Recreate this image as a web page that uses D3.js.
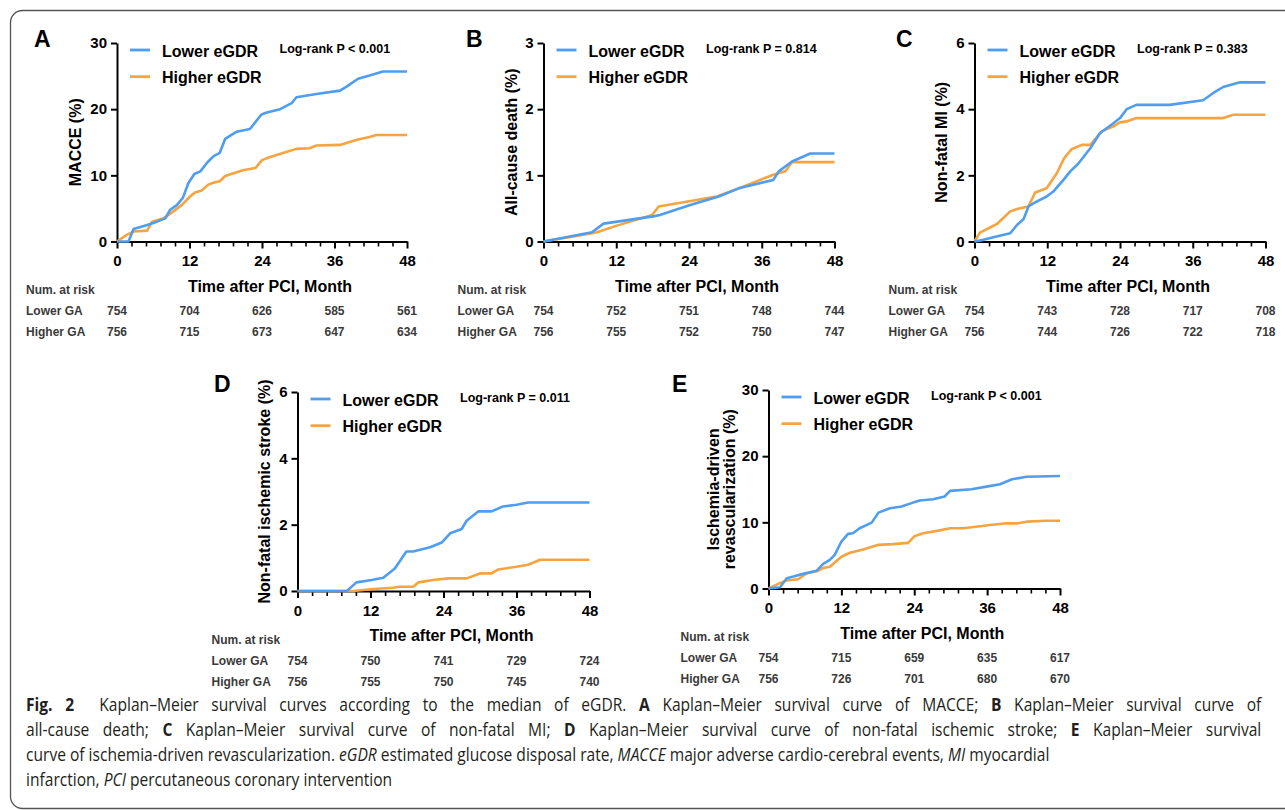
<!DOCTYPE html>
<html>
<head>
<meta charset="utf-8">
<script src="https://cdn.jsdelivr.net/npm/d3@7"></script>
<style>
body { margin: 0; background: #fff; }
svg { display: block; }
.axis path, .axis line { stroke: #000; stroke-width: 2px; }
.axis text { font: bold 15px "Liberation Sans", Arial, sans-serif; fill: #000; }
.minor line { stroke-width: 1.6px; }
</style>
</head>
<body>
<div id="chart"></div>
<script>
// ---- data ----
const months = [0, 12, 24, 36, 48];

const macceLower = [[0,0],[1.9,0],[2.75,1.9],[5,2.5],[6.6,3.0],[8,3.5],[8.8,4.8],[9.9,5.5],[10.9,6.6],[11.8,8.8],[12.8,10.2],[13.8,10.6],[14.9,11.9],[16,12.9],[17,13.4],[17.9,15.5],[19.8,16.6],[22,17.0],[23.9,19.2],[24.8,19.5],[27,20.0],[28.9,20.9],[29.7,21.8],[33,22.3],[36.9,22.8],[38,23.4],[39.9,24.6],[41.8,25.1],[44,25.7],[48,25.7]];
const macceHigher = [[0,0],[1.6,1.0],[2.75,1.5],[5,1.65],[5.8,3.0],[7.7,3.5],[9.1,4.4],[10.7,5.5],[12.1,6.8],[12.9,7.4],[14,7.7],[15.1,8.6],[16,8.9],[17,9.1],[17.9,9.9],[19.3,10.3],[21,10.8],[22.9,11.1],[24,12.3],[25.1,12.7],[27.6,13.4],[29.7,14.0],[31.9,14.1],[33,14.5],[36.9,14.6],[39.9,15.4],[41.8,15.8],[42.9,16.1],[48,16.1]];

const deathLower = [[0,0],[8,0.14],[9.9,0.27],[18.1,0.38],[19.2,0.40],[24.2,0.55],[28.9,0.68],[32.4,0.81],[37.9,0.93],[38.8,1.06],[41,1.21],[44,1.33],[48,1.33]];
const deathHigher = [[0,0],[7.1,0.11],[8.8,0.14],[12.1,0.24],[17.9,0.40],[19,0.53],[28.6,0.68],[32.4,0.81],[37.9,1.01],[39.9,1.06],[41,1.20],[48,1.20]];

const miLower = [[0,0],[1.5,0.05],[3.1,0.13],[5.9,0.25],[7,0.5],[8.1,0.68],[8.9,1.06],[10,1.18],[11.9,1.36],[13,1.51],[14.7,1.87],[15.8,2.12],[17.1,2.35],[19.1,2.82],[20.7,3.28],[22.6,3.53],[24,3.73],[25.1,4.0],[26.7,4.13],[32.2,4.13],[37.7,4.27],[39.4,4.49],[41,4.67],[43.8,4.81],[48,4.81]];
const miHigher = [[0,0],[0.9,0.27],[3.7,0.53],[5.9,0.91],[7,0.98],[8.9,1.06],[10,1.48],[11.9,1.61],[13.6,2.07],[14.8,2.52],[16,2.79],[17.7,2.92],[19.1,2.92],[21,3.33],[22.9,3.48],[24,3.6],[25.1,3.63],[26.7,3.73],[41,3.73],[42.7,3.83],[48,3.83]];

const strokeLower = [[0,0],[8.1,0],[9.7,0.26],[12.2,0.33],[14.1,0.40],[16,0.68],[17.9,1.19],[19,1.19],[21.8,1.32],[23.7,1.46],[25.1,1.74],[27,1.87],[27.8,2.12],[29.7,2.40],[31.9,2.40],[33.8,2.55],[36,2.60],[37.9,2.67],[48,2.67]];
const strokeHigher = [[0,0],[9.2,0],[12.5,0.06],[15.7,0.10],[16.8,0.13],[19,0.13],[19.9,0.26],[22.3,0.33],[24.8,0.38],[27.8,0.38],[30,0.53],[31.9,0.53],[33,0.65],[36,0.73],[37.9,0.79],[39.9,0.94],[48,0.94]];

const revascLower = [[0,0],[1.9,0.2],[3,1.56],[4.1,1.81],[5.7,2.21],[7.9,2.67],[9,3.72],[10.1,4.33],[10.9,5.08],[12,7.1],[13.1,8.25],[13.9,8.35],[15,9.1],[17,9.96],[18.1,11.47],[20,12.13],[21.9,12.38],[23.8,12.98],[24.9,13.29],[27.1,13.49],[29,13.9],[29.9,14.75],[33.4,15.0],[35.9,15.4],[38.1,15.75],[40.1,16.5],[42.5,16.9],[48,17.0]];
const revascHigher = [[0,0],[1.6,0.7],[3,1.2],[4.9,1.4],[6.3,2.3],[7.9,2.6],[9,3.1],[10.1,3.3],[12,4.8],[13.4,5.4],[15.6,5.9],[18.1,6.6],[20.5,6.7],[23,6.9],[24.1,7.95],[25.5,8.35],[28,8.75],[29.9,9.1],[32.1,9.1],[36.5,9.6],[39.2,9.85],[41.1,9.85],[42.5,10.1],[45.8,10.25],[48,10.25]];

const macceRiskLower = [754, 704, 626, 585, 561];
const macceRiskHigher = [756, 715, 673, 647, 634];
const deathRiskLower = [754, 752, 751, 748, 744];
const deathRiskHigher = [756, 755, 752, 750, 747];
const miRiskLower = [754, 743, 728, 717, 708];
const miRiskHigher = [756, 744, 726, 722, 718];
const strokeRiskLower = [754, 750, 741, 729, 724];
const strokeRiskHigher = [756, 755, 750, 745, 740];
const revascRiskLower = [754, 715, 659, 635, 617];
const revascRiskHigher = [756, 726, 701, 680, 670];

const seriesNames = ["Lower eGDR", "Higher eGDR"];
const riskNames = ["Lower GA", "Higher GA"];
const pTexts = ["Log-rank P < 0.001", "Log-rank P = 0.814", "Log-rank P = 0.383", "Log-rank P = 0.011", "Log-rank P < 0.001"];

const colors = {lower: "#4f9df0", higher: "#f7a33f"};
const font = '"Liberation Sans", Arial, sans-serif';

// ---- panel layout ----
const panels = [
    {id: "A", x0: 117, x1: 407, top: 43, bot: 241.5, yMax: 30, yTicks: [0,10,20,30], yTitle: ["MACCE (%)"], titleX: [-42],
     letter: [34, 47], riskX: -91, lower: macceLower, higher: macceHigher, riskL: macceRiskLower, riskH: macceRiskHigher, p: pTexts[0]},
    {id: "B", x0: 543.5, x1: 834.5, top: 43, bot: 241.5, yMax: 3, yTicks: [0,1,2,3], yTitle: ["All-cause death (%)"], titleX: [-32],
     letter: [466, 47], riskX: -86, lower: deathLower, higher: deathHigher, riskL: deathRiskLower, riskH: deathRiskHigher, p: pTexts[1]},
    {id: "C", x0: 974.5, x1: 1265.5, top: 43, bot: 241.5, yMax: 6, yTicks: [0,2,4,6], yTitle: ["Non-fatal MI (%)"], titleX: [-33.5],
     letter: [896, 47], riskX: -86, lower: miLower, higher: miHigher, riskL: miRiskLower, riskH: miRiskHigher, p: pTexts[2]},
    {id: "D", x0: 297.5, x1: 589.5, top: 392, bot: 591, yMax: 6, yTicks: [0,2,4,6], yTitle: ["Non-fatal ischemic stroke (%)"], titleX: [-33],
     letter: [214, 392], riskX: -86, lower: strokeLower, higher: strokeHigher, riskL: strokeRiskLower, riskH: strokeRiskHigher, p: pTexts[3]},
    {id: "E", x0: 768.5, x1: 1060, top: 390, bot: 588.5, yMax: 30, yTicks: [0,10,20,30], yTitle: ["Ischemia-driven", "revascularization (%)"], titleX: [-55.5, -39.5],
     letter: [672, 392], riskX: -88, lower: revascLower, higher: revascHigher, riskL: revascRiskLower, riskH: revascRiskHigher, p: pTexts[4]}
];

const svg = d3.select("#chart").append("svg")
    .attr("width", 1285)
    .attr("height", 810);

svg.append("rect").attr("width", 1285).attr("height", 810).attr("fill", "#fff");

// frame round the figure
svg.append("rect")
    .attr("x", 10.5).attr("y", 10.5)
    .attr("width", 1300).attr("height", 798)
    .attr("rx", 12)
    .attr("fill", "none")
    .attr("stroke", "#555")
    .attr("stroke-width", 1.3);

panels.forEach(p => drawPanel(p));

function drawPanel(p) {
    let g = svg.append("g");

    let x = d3.scaleLinear().domain([0, 48]).range([p.x0, p.x1]);
    let y = d3.scaleLinear().domain([0, p.yMax]).range([p.bot, p.top]);

    // minor x ticks every 2.4 months
    let minor = d3.range(0, 48.01, 2.4).filter(v => months.indexOf(Math.round(v * 100) / 100) < 0);
    g.append("g")
        .attr("class", "axis minor")
        .attr("transform", `translate(0,${p.bot})`)
        .call(d3.axisBottom(x).tickValues(minor).tickSize(5).tickSizeOuter(0).tickFormat(""))
        .select(".domain").remove();

    g.append("g")
        .attr("class", "axis")
        .attr("transform", `translate(0,${p.bot})`)
        .call(d3.axisBottom(x).tickValues(months).tickSize(7).tickSizeOuter(0).tickPadding(7).tickFormat(d3.format("d")));

    g.append("g")
        .attr("class", "axis")
        .attr("transform", `translate(${p.x0},0)`)
        .call(d3.axisLeft(y).tickValues(p.yTicks).tickSize(6).tickSizeOuter(0).tickPadding(4).tickFormat(d3.format("d")));

    // curves
    let line = d3.line().x(d => x(d[0])).y(d => y(d[1]));
    g.append("path").datum(p.higher)
        .attr("d", line).attr("fill", "none")
        .attr("stroke", colors.higher).attr("stroke-width", 2.6).attr("stroke-linejoin", "round");
    g.append("path").datum(p.lower)
        .attr("d", line).attr("fill", "none")
        .attr("stroke", colors.lower).attr("stroke-width", 2.6).attr("stroke-linejoin", "round");

    // panel letter
    g.append("text")
        .attr("x", p.letter[0]).attr("y", p.letter[1])
        .style("font", `bold 23px ${font}`)
        .text(p.id);

    // y title
    let midY = (p.top + p.bot) / 2;
    p.yTitle.forEach((t, i) => {
        g.append("text")
            .attr("transform", `translate(${p.x0 + p.titleX[i]},${midY}) rotate(-90)`)
            .attr("text-anchor", "middle")
            .attr("dominant-baseline", "central")
            .style("font", `bold 16px ${font}`)
            .text(t);
    });

    // x title
    g.append("text")
        .attr("x", (p.x0 + p.x1) / 2 + 8).attr("y", p.bot + 44.5)
        .attr("text-anchor", "middle")
        .attr("dominant-baseline", "central")
        .style("font", `bold 16px ${font}`)
        .text("Time after PCI, Month");

    // legend
    [colors.lower, colors.higher].forEach((c, i) => {
        let ly = p.top + 7 + i * 26.7;
        g.append("line")
            .attr("x1", p.x0 + 13).attr("x2", p.x0 + 33)
            .attr("y1", ly).attr("y2", ly)
            .attr("stroke", c).attr("stroke-width", 2.8);
        g.append("text")
            .attr("x", p.x0 + 45).attr("y", ly + 1)
            .attr("dominant-baseline", "central")
            .style("font", `bold 16px ${font}`)
            .text(seriesNames[i]);
    });

    g.append("text")
        .attr("x", p.x0 + 162.5).attr("y", p.top + 5.5)
        .attr("dominant-baseline", "central")
        .style("font", `bold 12.5px ${font}`)
        .text(p.p);

    // numbers at risk
    let riskFont = `bold 12px ${font}`;
    g.append("text")
        .attr("x", p.x0 + p.riskX).attr("y", p.bot + 48.5)
        .attr("dominant-baseline", "central")
        .attr("fill", "#3a3a3a")
        .style("font", riskFont)
        .text("Num. at risk");

    [p.riskL, p.riskH].forEach((row, i) => {
        let ry = p.bot + 69.5 + i * 21;
        g.append("text")
            .attr("x", p.x0 + p.riskX).attr("y", ry)
            .attr("dominant-baseline", "central")
            .attr("fill", "#3a3a3a")
            .style("font", riskFont)
            .text(riskNames[i]);
        g.selectAll(null).data(row).enter().append("text")
            .attr("x", (d, j) => x(months[j]))
            .attr("y", ry)
            .attr("text-anchor", "middle")
            .attr("dominant-baseline", "central")
            .attr("fill", "#3a3a3a")
            .style("font", riskFont)
            .text(d => d);
    });
}

// ---- caption ----
const captionLines = [
    [["b", "Fig. 2"], ["n", "  Kaplan–Meier survival curves according to the median of eGDR. "], ["b", "A"], ["n", " Kaplan–Meier survival curve of MACCE; "], ["b", "B"], ["n", " Kaplan–Meier survival curve of"]],
    [["n", "all-cause death; "], ["b", "C"], ["n", " Kaplan–Meier survival curve of non-fatal MI; "], ["b", "D"], ["n", " Kaplan–Meier survival curve of non-fatal ischemic stroke; "], ["b", "E"], ["n", " Kaplan–Meier survival"]],
    [["n", "curve of ischemia-driven revascularization. "], ["i", "eGDR"], ["n", " estimated glucose disposal rate, "], ["i", "MACCE"], ["n", " major adverse cardio-cerebral events, "], ["i", "MI"], ["n", " myocardial"]],
    [["n", "infarction, "], ["i", "PCI"], ["n", " percutaneous coronary intervention"]]
];

let capTexts = captionLines.map((segs, i) => {
    let t = svg.append("text")
        .attr("x", 0).attr("y", 0)
        .style("font-family", '"Open Sans", "Noto Sans", sans-serif')
        .style("font-size", "18.5px")
        .style("white-space", "pre")
        .attr("fill", "#231f20");
    segs.forEach(s => {
        t.append("tspan")
            .style("font-weight", s[0] === "b" ? "bold" : "normal")
            .style("font-style", s[0] === "i" ? "italic" : "normal")
            .text(s[1]);
    });
    return t;
});

// narrow the face so line 3 ends where it does, then justify lines 1-2
let sx = 1024 / capTexts[2].node().getComputedTextLength();
capTexts.forEach((t, i) => {
    if (i < 2) {
        let natural = t.node().getComputedTextLength();
        let spaces = captionLines[i].map(s => s[1]).join("").split(" ").length - 1;
        t.style("word-spacing", ((1236 / sx - natural) / spaces) + "px");
    }
    t.attr("transform", `translate(26,${711 + i * 25}) scale(${sx},1)`);
});
</script>
</body>
</html>
